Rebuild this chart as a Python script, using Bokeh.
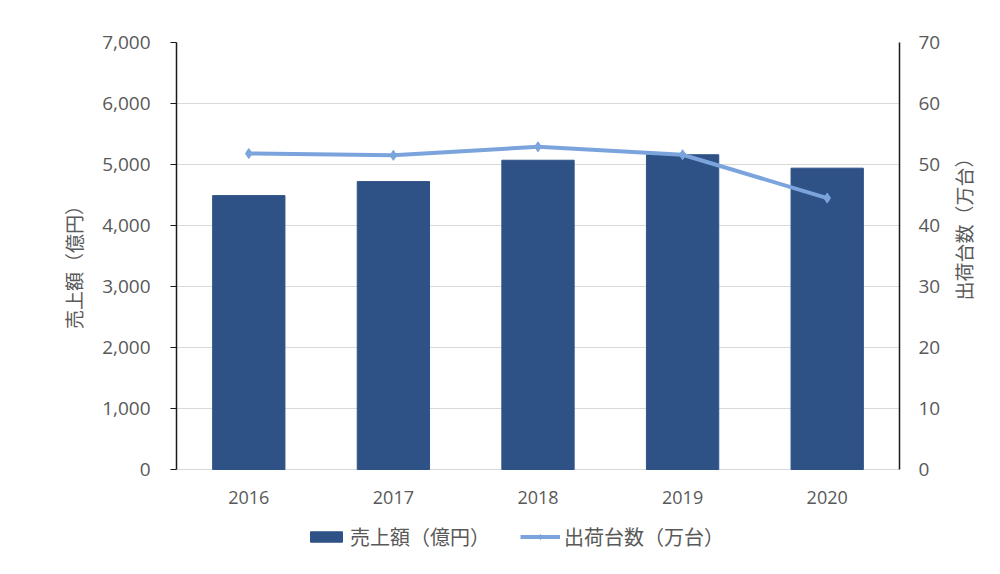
import math
from bokeh.plotting import figure
from bokeh.models import (Range1d, LinearAxis, NumeralTickFormatter, Legend, LegendItem,
                          FactorRange, ColumnDataSource, FixedTicker, LabelSet)
from bokeh.core.properties import value
from bokeh.embed import file_html
from bokeh.resources import INLINE

years = ["2016", "2017", "2018", "2019", "2020"]
sales = [4490, 4720, 5070, 5160, 4940]          # 売上額（億円）
units = [51.8, 51.5, 52.9, 51.6, 44.5]          # 出荷台数（万台）
sales_label = "売上額（億円）"
units_label = "出荷台数（万台）"
left_ticks = [0, 1000, 2000, 3000, 4000, 5000, 6000, 7000]
right_ticks = [0, 10, 20, 30, 40, 50, 60, 70]
base_y = [0, 0, 0, 0, 0]                        # category labels sit on the zero line

BAR = "#2F5286"
LINE = "#7BA4DD"
TXT = "#595959"
GRID = "#D9D9D9"
NUMFONT = "Open Sans"
JPFONT = "Noto Sans CJK JP"
PAD = "\u3000" * 4   # ideographic spaces: shift left axis title over the 0..7000 span

# layout: the plotting area (0..7000) is 427px tall; the frame is extended
# downward so that the category labels and the legend live inside it
PLOT_PX = 427
EXTRA_PX = 89
FRAME_PX = PLOT_PX + EXTRA_PX
y_start = -left_ticks[-1] * EXTRA_PX / PLOT_PX
y2_start = -right_ticks[-1] * EXTRA_PX / PLOT_PX

src = ColumnDataSource(dict(year=years, sales=sales, units=units, base=base_y))

p = figure(frame_width=723, frame_height=FRAME_PX, x_range=FactorRange(*years),
           y_range=Range1d(y_start, left_ticks[-1]),
           output_backend="svg", toolbar_location=None,
           min_border_left=176, min_border_right=95, min_border_top=42, min_border_bottom=6)
p.extra_y_ranges = {"units": Range1d(y2_start, right_ticks[-1])}
p.outline_line_color = None
p.background_fill_color = "white"
p.border_fill_color = "white"

bars = p.vbar(x="year", top="sales", width=0.5, source=src, fill_color=BAR, line_color=BAR)
ln = p.line(x="year", y="units", y_range_name="units", source=src, line_color=LINE, line_width=4)
mk = p.scatter(x="year", y="units", y_range_name="units", source=src, marker="diamond",
               size=10, fill_color=LINE, line_color=LINE)

# left axis
ya = p.yaxis[0]
ya.ticker = FixedTicker(ticks=left_ticks)
ya.bounds = (left_ticks[0], left_ticks[-1])
ya.formatter = NumeralTickFormatter(format="0,0")
ya.axis_line_color = "#1a1a1a"
ya.axis_line_width = 1.5
ya.major_tick_line_color = "#1a1a1a"
ya.major_tick_out = 6
ya.major_tick_in = 0
ya.minor_tick_line_color = None
ya.major_label_text_font = NUMFONT
ya.major_label_text_font_size = "19px"
ya.major_label_text_color = TXT
ya.major_label_standoff = 20
ya.axis_label = PAD + sales_label
ya.axis_label_text_font = JPFONT
ya.axis_label_text_font_size = "19px"
ya.axis_label_text_font_style = "normal"
ya.axis_label_text_color = TXT
ya.axis_label_standoff = 12

# right axis
ra = LinearAxis(y_range_name="units", ticker=FixedTicker(ticks=right_ticks))
ra.bounds = (right_ticks[0], right_ticks[-1])
ra.axis_line_color = "#1a1a1a"
ra.axis_line_width = 1.5
ra.major_tick_line_color = None
ra.minor_tick_line_color = None
ra.major_label_text_font = NUMFONT
ra.major_label_text_font_size = "19px"
ra.major_label_text_color = TXT
ra.major_label_standoff = 13
ra.axis_label = units_label
ra.axis_label_orientation = math.pi / 2
ra.axis_label_text_font = JPFONT
ra.axis_label_text_font_size = "19px"
ra.axis_label_text_font_style = "normal"
ra.axis_label_text_color = TXT
ra.axis_label_standoff = 20
p.add_layout(ra, "right")

# x axis: category labels drawn on the zero line
p.xaxis.visible = False
xlabels = LabelSet(x="year", y="base", text="year", source=src, y_offset=-28,
                   text_align="center", text_baseline="middle",
                   text_font=value(NUMFONT), text_font_size="18px", text_color=TXT)
p.add_layout(xlabels)

p.xgrid.grid_line_color = None
p.ygrid.grid_line_color = GRID
p.ygrid.ticker = FixedTicker(ticks=left_ticks)

legend = Legend(items=[LegendItem(label=sales_label, renderers=[bars]),
                       LegendItem(label=units_label, renderers=[ln, mk])],
                orientation="horizontal", location=(130, 7))
legend.label_text_font = JPFONT
legend.label_text_font_size = "20px"
legend.label_text_color = TXT
legend.border_line_color = None
legend.background_fill_alpha = 0
legend.glyph_width = 40
legend.glyph_height = 13
legend.spacing = 30
legend.label_standoff = 4
legend.padding = 4
legend.margin = 0
p.add_layout(legend)

open("out.html", "w").write(file_html(p, INLINE))
